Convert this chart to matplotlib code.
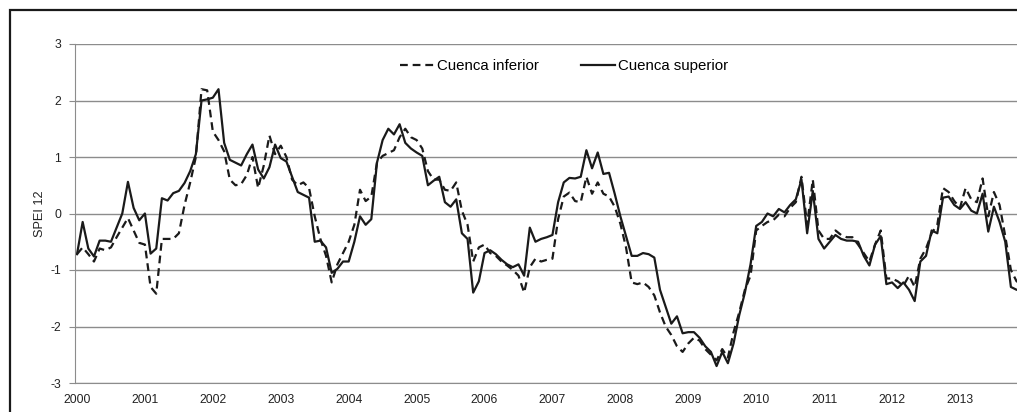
import numpy as np
import matplotlib
matplotlib.use("Agg")
import matplotlib.pyplot as plt
from matplotlib.patches import Rectangle

plt.rcParams['font.family'] = ['Liberation Sans', 'DejaVu Sans']
plt.rcParams['axes.unicode_minus'] = False

# monthly SPEI 12, Jan 2000 .. Dec 2013
inferior = [
    -0.72, -0.6, -0.72, -0.85, -0.62, -0.65, -0.6, -0.42, -0.25, -0.08, -0.3, -0.52,
    -0.55, -1.3, -1.42, -0.45, -0.45, -0.45, -0.35, 0.15, 0.55, 1.0, 2.2, 2.18,
    1.45, 1.3, 1.1, 0.6, 0.5, 0.52, 0.68, 1.0, 0.45, 0.85, 1.38, 1.05,
    1.2, 1.0, 0.6, 0.5, 0.55, 0.45, -0.05, -0.45, -0.75, -1.22, -0.9, -0.7,
    -0.5, -0.2, 0.42, 0.22, 0.3, 0.9, 1.02, 1.07, 1.12, 1.35, 1.5, 1.35,
    1.3, 1.15, 0.75, 0.6, 0.6, 0.42, 0.4, 0.55, 0.05, -0.2, -0.85, -0.6,
    -0.55, -0.7, -0.75, -0.85, -0.92, -1.0, -1.1, -1.4, -0.95, -0.8, -0.85, -0.82,
    -0.8, -0.1, 0.3, 0.37, 0.22, 0.2, 0.65, 0.35, 0.55, 0.35, 0.3, 0.12,
    -0.18, -0.6, -1.22, -1.25, -1.22, -1.3, -1.45, -1.75, -2.0, -2.15, -2.35, -2.45,
    -2.3, -2.2, -2.25, -2.4, -2.5, -2.6, -2.4, -2.55, -2.1, -1.75, -1.35, -1.1,
    -0.3, -0.22, -0.15, -0.12, -0.02, -0.05, 0.1, 0.2, 0.65, -0.2, 0.6, -0.3,
    -0.45, -0.45, -0.3, -0.38, -0.42, -0.42, -0.55, -0.7, -0.85, -0.55, -0.3, -1.15,
    -1.15, -1.2, -1.28, -1.1, -1.3, -0.8, -0.62, -0.35, -0.2, 0.45, 0.38, 0.22,
    0.1, 0.45, 0.25, 0.2, 0.62, -0.05, 0.38, 0.15, -0.4, -1.0, -1.2, -1.25,
]
superior = [
    -0.72, -0.15, -0.62, -0.76, -0.48, -0.48, -0.5, -0.25, 0.0, 0.56, 0.1, -0.12,
    0.0, -0.71, -0.62, 0.27, 0.23, 0.36, 0.4, 0.54, 0.75, 1.05, 2.0, 2.02,
    2.05, 2.2, 1.25, 0.95, 0.9, 0.85, 1.05, 1.22, 0.78, 0.62, 0.82, 1.22,
    0.98, 0.92, 0.65, 0.38, 0.33, 0.28, -0.5, -0.48, -0.6, -1.05, -0.98, -0.85,
    -0.85, -0.5, -0.05, -0.2, -0.1, 0.9, 1.3, 1.5, 1.4, 1.58, 1.25, 1.15,
    1.08, 1.02, 0.5, 0.58, 0.65, 0.2, 0.12, 0.25, -0.35, -0.45, -1.4, -1.2,
    -0.7, -0.65, -0.72, -0.82, -0.9, -0.95, -0.9, -1.1, -0.25, -0.5, -0.45, -0.42,
    -0.38, 0.2, 0.55, 0.63, 0.62, 0.65, 1.12, 0.8, 1.08, 0.7, 0.72, 0.35,
    -0.05, -0.4, -0.75, -0.75, -0.7, -0.72, -0.78, -1.35, -1.65, -1.95, -1.82, -2.12,
    -2.1, -2.1, -2.2, -2.35, -2.45, -2.7, -2.45, -2.65, -2.3, -1.8, -1.4, -0.9,
    -0.22, -0.15, 0.0, -0.05, 0.08, 0.02, 0.15, 0.25, 0.6, -0.35, 0.4, -0.45,
    -0.62, -0.5, -0.38, -0.45, -0.48, -0.48, -0.5, -0.75, -0.92, -0.55, -0.4, -1.25,
    -1.22, -1.32, -1.22, -1.35, -1.55, -0.85, -0.75, -0.3, -0.35, 0.28, 0.3, 0.15,
    0.08, 0.2, 0.05, 0.0, 0.35, -0.32, 0.12, -0.15, -0.5, -1.3, -1.35, -1.35,
]
years = list(range(2000, 2014))

months = np.arange(len(superior))

fig = plt.figure(figsize=(10.17, 4.12), dpi=100)
ax = fig.add_axes([75 / 1017, 1 - 383 / 412, 1 - 75 / 1017, (383 - 44) / 412])

# outer frame of the original figure (cut at right and bottom)
fig.patches.append(Rectangle((10 / 1017, -0.5), 2, 0.5 + 1 - 10 / 412, transform=fig.transFigure,
                             fill=False, edgecolor='#1a1a1a', linewidth=1.6, clip_on=False))

ax.plot(months, inferior, color='#1a1a1a', linewidth=1.6, linestyle=(0, (3.5, 2.2)), label='Cuenca inferior')
ax.plot(months, superior, color='#1a1a1a', linewidth=1.6, label='Cuenca superior')

# 2000 sits at x=77px, 5.66 px per month
ax.set_xlim(-2 / 5.66, 940 / 5.66)
ax.set_ylim(-3, 3)
ax.set_yticks(range(-3, 4))
ax.set_xticks([12 * k for k in range(len(years))])
ax.set_xticklabels([str(y) for y in years])
ax.yaxis.grid(True, color='#8c8c8c', linewidth=1.0)
ax.set_axisbelow(True)
for s in ['top', 'right']:
    ax.spines[s].set_visible(False)
for s in ['left', 'bottom']:
    ax.spines[s].set_color('#8c8c8c')
ax.tick_params(axis='y', length=4, color='#8c8c8c', labelsize=8.7, labelcolor='#222222', pad=6)
ax.tick_params(axis='x', length=0, labelsize=8.7, labelcolor='#222222', pad=8)
ax.set_ylabel('SPEI 12', fontsize=9.2, color='#222222', labelpad=3)

ax.legend(loc='center', bbox_to_anchor=((564 - 75) / 942, (383 - 66) / 339), ncol=2, frameon=False,
          fontsize=10.8, handlelength=2.3, handletextpad=0.15, columnspacing=2.8)

fig.savefig('out.png', dpi=100)
